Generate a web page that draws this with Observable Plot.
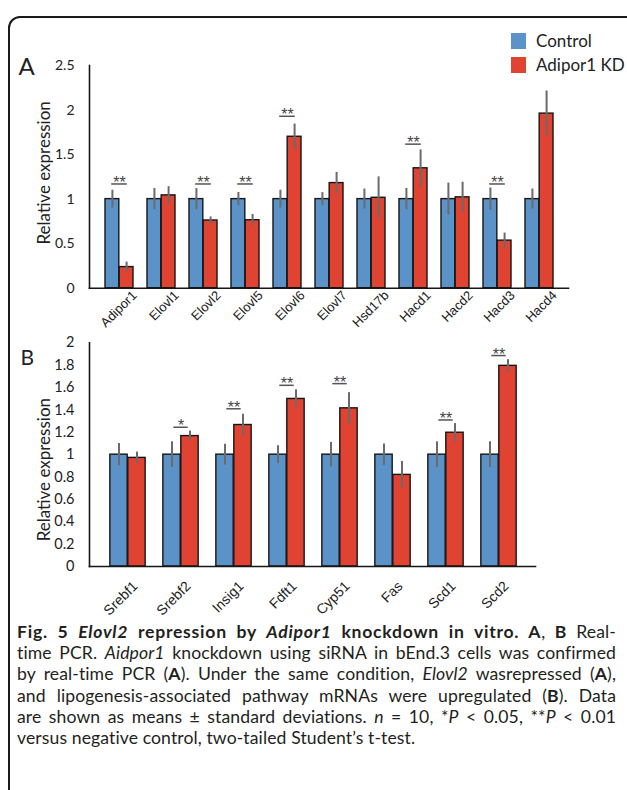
<!DOCTYPE html>
<html><head><meta charset="utf-8">
<script src="https://cdn.jsdelivr.net/npm/d3@7"></script>
<script src="https://cdn.jsdelivr.net/npm/@observablehq/plot@0.6"></script>
<style>
html,body{margin:0;padding:0;background:#fff;}
#wrap{position:relative;width:627px;height:790px;overflow:hidden;background:#fff;}
#frame{position:absolute;left:8px;top:16px;width:700px;height:900px;border:2.5px solid #1a1a1a;border-radius:12px;box-sizing:border-box;}
.chart{position:absolute;left:0;}
.sw{position:absolute;width:15px;height:15.5px;}
.lg{position:absolute;font-family:Lato,sans-serif;font-size:17px;color:#222;line-height:20px;white-space:nowrap;}
#caption{position:absolute;left:17px;top:621px;width:599px;font-family:Lato,sans-serif;font-size:17.6px;line-height:21.2px;color:#231f20;letter-spacing:0.1px;}
#caption div{text-align:justify;text-align-last:justify;white-space:nowrap;}
#caption div.last{text-align-last:left;}
#caption div.first b{letter-spacing:0.75px;}
</style>
</head><body>
<div id="wrap">
  <div id="frame"></div>
  <div id="chartA" class="chart" style="top:0px"></div>
  <div id="chartB" class="chart" style="top:320px"></div>
  <div class="sw" style="left:511px;top:33px;background:#5b93c9"></div>
  <div class="lg" style="left:536px;top:31px">Control</div>
  <div class="sw" style="left:511px;top:57px;background:#e04331"></div>
  <div class="lg" style="left:536px;top:55px">Adipor1 KD</div>
  <div id="caption">
    <div class="first"><b>Fig. 5 <i>Elovl2</i> repression by <i>Adipor1</i> knockdown in vitro. A</b>, <b>B</b> Real-</div>
    <div>time PCR. <i>Aidpor1</i> knockdown using siRNA in bEnd.3 cells was confirmed</div>
    <div>by real-time PCR (<b>A</b>). Under the same condition, <i>Elovl2</i> wasrepressed (<b>A</b>),</div>
    <div>and lipogenesis-associated pathway mRNAs were upregulated (<b>B</b>). Data</div>
    <div>are shown as means ± standard deviations. <i>n</i> = 10, *<i>P</i> &lt; 0.05, **<i>P</i> &lt; 0.01</div>
    <div class="last">versus negative control, two-tailed Student’s t-test.</div>
  </div>
</div>
<script>
// ---- Panel A data ----
const catsA = ["Adipor1","Elovl1","Elovl2","Elovl5","Elovl6","Elovl7","Hsd17b","Hacd1","Hacd2","Hacd3","Hacd4"];
const controlA = [1,1,1,1,1,1,1,1,1,1,1];
const controlErrA = [0.10,0.12,0.12,0.075,0.10,0.073,0.113,0.12,0.18,0.125,0.113];
const kdA = [0.237,1.042,0.76,0.763,1.70,1.18,1.015,1.346,1.02,0.534,1.96];
const kdErrA = [0.056,0.098,0.04,0.064,0.143,0.12,0.235,0.207,0.17,0.085,0.254];
const sigA = ["**","","**","**","**","","","**","","**",""];
const sigLevelA = [1.17,null,1.17,1.17,1.93,null,null,1.617,null,1.17,null];
const yTicksA = [0,0.5,1,1.5,2,2.5];

// ---- Panel B data ----
const catsB = ["Srebf1","Srebf2","Insig1","Fdft1","Cyp51","Fas","Scd1","Scd2"];
const controlB = [1,1,1,1,1,1,1,1];
const controlErrB = [0.10,0.115,0.093,0.08,0.11,0.095,0.115,0.115];
const kdB = [0.971,1.166,1.265,1.498,1.414,0.819,1.196,1.794];
const kdErrB = [0.052,0.045,0.096,0.082,0.14,0.12,0.082,0.055];
const sigB = ["","*","**","**","**","","**","**"];
const sigLevelB = [null,1.245,1.41,1.62,1.635,null,1.31,1.886];
const yTicksB = [0,0.2,0.4,0.6,0.8,1,1.2,1.4,1.6,1.8,2];

const BLUE = "#5b93c9", RED = "#e04331", EDGE = "#161616", ERR = "#6b6b6b";

function panel(o) {
  const width = 627, ml = 89;
  const band = (width - ml - o.mr - o.insL - o.insR) / o.cats.length;
  const pair = band * 0.67, bw = pair / 2, pad = (band - pair) / 2;
  const rows = o.cats.map((c, i) => ({c, ctrl: o.ctrl[i], ce: o.ctrlErr[i], kd: o.kd[i], ke: o.kdErr[i], sig: o.sig[i], sy: o.sigY[i]}));
  const sigRows = rows.filter(d => d.sig);
  return Plot.plot({
    width, height: o.height,
    marginLeft: ml, marginRight: o.mr, marginTop: o.mt, marginBottom: o.mb,
    style: {background: "transparent", overflow: "visible"},
    x: {domain: o.cats, padding: 0, insetLeft: o.insL, insetRight: o.insR, axis: null},
    y: {domain: [0, o.yMax], axis: null},
    marks: [
      Plot.barY(rows, {x: "c", y: "ctrl", fill: BLUE, stroke: EDGE, strokeWidth: 1.4, insetLeft: pad, insetRight: pad + bw}),
      Plot.barY(rows, {x: "c", y: "kd", fill: RED, stroke: EDGE, strokeWidth: 1.4, insetLeft: pad + bw, insetRight: pad}),
      Plot.ruleX(rows, {x: "c", y1: d => d.ctrl - d.ce, y2: d => d.ctrl + d.ce, dx: -bw / 2, stroke: ERR, strokeWidth: 2}),
      Plot.ruleX(rows, {x: "c", y1: d => d.kd - d.ke, y2: d => d.kd + d.ke, dx: bw / 2, stroke: ERR, strokeWidth: 2}),
      Plot.tickY(sigRows, {x: "c", y: "sy", inset: band / 2 - o.sigHalf, stroke: "#555", strokeWidth: 1.5}),
      Plot.text(sigRows, {x: "c", y: "sy", text: "sig", lineAnchor: "bottom", dy: 4, fontSize: 16, fontFamily: "Liberation Sans", fill: "#444"}),
      Plot.frame({anchor: "left", stroke: EDGE, strokeWidth: 1.6}),
      Plot.frame({anchor: "bottom", stroke: EDGE, strokeWidth: 1.6}),
      Plot.text(o.yTicks, {y: d => d, frameAnchor: "left", dx: -15, textAnchor: "end", text: d => String(d), fontSize: o.tickFont, fontFamily: "Lato", fill: "#222"}),
      Plot.text(o.cats, {x: d => d, text: d => d, frameAnchor: "bottom", dx: o.xdx, dy: o.xdy, rotate: -45, textAnchor: "end", fontSize: o.xFont, fontFamily: "Liberation Sans", fill: "#222"}),
      Plot.text(["Relative expression"], {frameAnchor: "left", dx: -45, dy: o.titleDy, rotate: -90, textAnchor: "middle", lineAnchor: "middle", fontSize: 17, fontFamily: "Lato", fill: "#222"}),
      Plot.text([o.letter], {frameAnchor: "top-left", dx: o.letterDx, dy: o.letterDy, textAnchor: "start", lineAnchor: "bottom", fontSize: o.letterSize, fontFamily: "Lato", fill: "#222"})
    ]
  });
}

document.getElementById("chartA").appendChild(panel({
  cats: catsA, ctrl: controlA, ctrlErr: controlErrA, kd: kdA, kdErr: kdErrA, sig: sigA, sigY: sigLevelA,
  yTicks: yTicksA, yMax: 2.5, height: 330, mt: 65, mb: 42.3, mr: 59, insL: 7, insR: 6,
  tickFont: 14, xFont: 13, xdx: 18, xdy: 8, titleDy: -4, letter: "A", letterSize: 24, letterDx: -71, letterDy: 9, sigHalf: 8
}));
document.getElementById("chartB").appendChild(panel({
  cats: catsB, ctrl: controlB, ctrlErr: controlErrB, kd: kdB, kdErr: kdErrB, sig: sigB, sigY: sigLevelB,
  yTicks: yTicksB, yMax: 2, height: 300, mt: 22.3, mb: 54, mr: 92, insL: 9, insR: 8,
  tickFont: 14.5, xFont: 14, xdx: 10.5, xdy: 20.5, titleDy: 15, letter: "B", letterSize: 21, letterDx: -69, letterDy: 21.7, sigHalf: 7.5
}));
</script>
</body></html>
